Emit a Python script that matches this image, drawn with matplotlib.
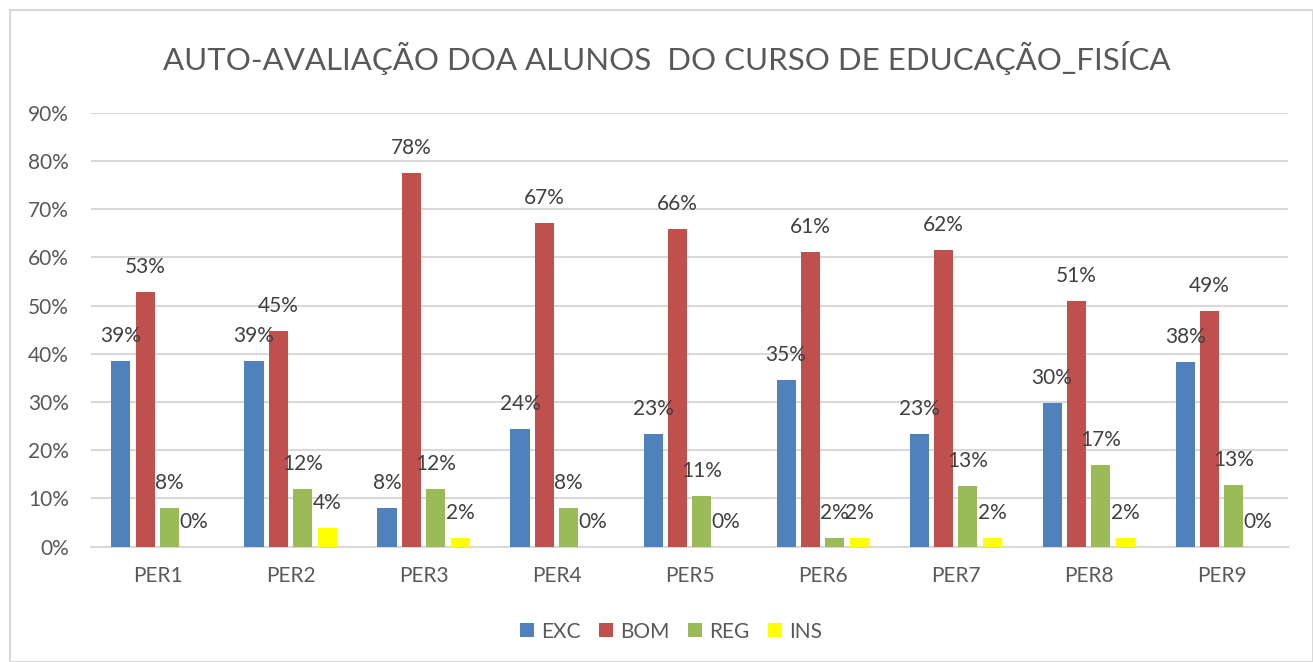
import matplotlib.pyplot as plt
import numpy as np
from matplotlib.patches import Rectangle

plt.rcParams['font.family'] = ['Lato', 'DejaVu Sans']

periods = ['PER1', 'PER2', 'PER3', 'PER4', 'PER5', 'PER6', 'PER7', 'PER8', 'PER9']
exc = [0.386, 0.386, 0.080, 0.244, 0.233, 0.346, 0.233, 0.297, 0.383]
bom = [0.529, 0.448, 0.775, 0.672, 0.659, 0.612, 0.616, 0.510, 0.489]
reg = [0.080, 0.120, 0.120, 0.080, 0.106, 0.019, 0.126, 0.169, 0.128]
ins = [0.000, 0.039, 0.019, 0.000, 0.000, 0.019, 0.019, 0.019, 0.000]

series = [('EXC', exc, '#4F81BD'), ('BOM', bom, '#C0504D'),
          ('REG', reg, '#9BBB59'), ('INS', ins, '#FFFF00')]

fig = plt.figure(figsize=(13.13, 6.62), dpi=100)
ax = fig.add_axes([0.0693, 0.1742, 0.9117, 0.6556])

x = np.arange(len(periods))
pitch = 0.183
width = 0.143
for i, (name, vals, col) in enumerate(series):
    pos = x + (i - 1.5) * pitch
    ax.bar(pos, vals, width, color=col, label=name, zorder=3)
    for p, v in zip(pos, vals):
        ax.annotate('{:.0f}%'.format(v * 100), (p, v), xytext=(0, 18),
                    textcoords='offset points', ha='center', va='center',
                    fontsize=15, color='#404040', zorder=4)

ax.set_xlim(-0.5, len(periods) - 0.5)
ax.set_ylim(0, 0.9)
ax.set_yticks(np.arange(0, 0.91, 0.1))
ax.set_yticklabels(['{:.0f}%'.format(t * 100) for t in np.arange(0, 0.91, 0.1)])
ax.set_xticks(x)
ax.set_xticklabels(periods)
ax.tick_params(axis='both', length=0, labelsize=15, labelcolor='#595959')
ax.tick_params(axis='x', pad=14)
ax.tick_params(axis='y', pad=16)
ax.grid(axis='y', color='#d9d9d9', linewidth=1.5, zorder=0)
for s in ['top', 'right', 'left']:
    ax.spines[s].set_visible(False)
ax.spines['bottom'].set_color('#d9d9d9')
ax.spines['bottom'].set_linewidth(1.5)

fig.text(0.5076, 0.912, 'AUTO-AVALIAÇÃO DOA ALUNOS  DO CURSO DE EDUCAÇÃO_FISÍCA',
         ha='center', va='center', fontsize=22.5, color='#595959')

fig.legend(loc='center', bbox_to_anchor=(0.511, 0.046), ncol=4, frameon=False,
           fontsize=15, labelcolor='#595959', handlelength=0.65, handleheight=0.65,
           handletextpad=0.35, columnspacing=0.9)

fig.patches.append(Rectangle((10 / 1313, 0), 1 - 10 / 1313, 1 - 10 / 662,
                             transform=fig.transFigure, fill=False,
                             edgecolor='#d9d9d9', linewidth=1.5))

fig.savefig('out.png', dpi=100)
